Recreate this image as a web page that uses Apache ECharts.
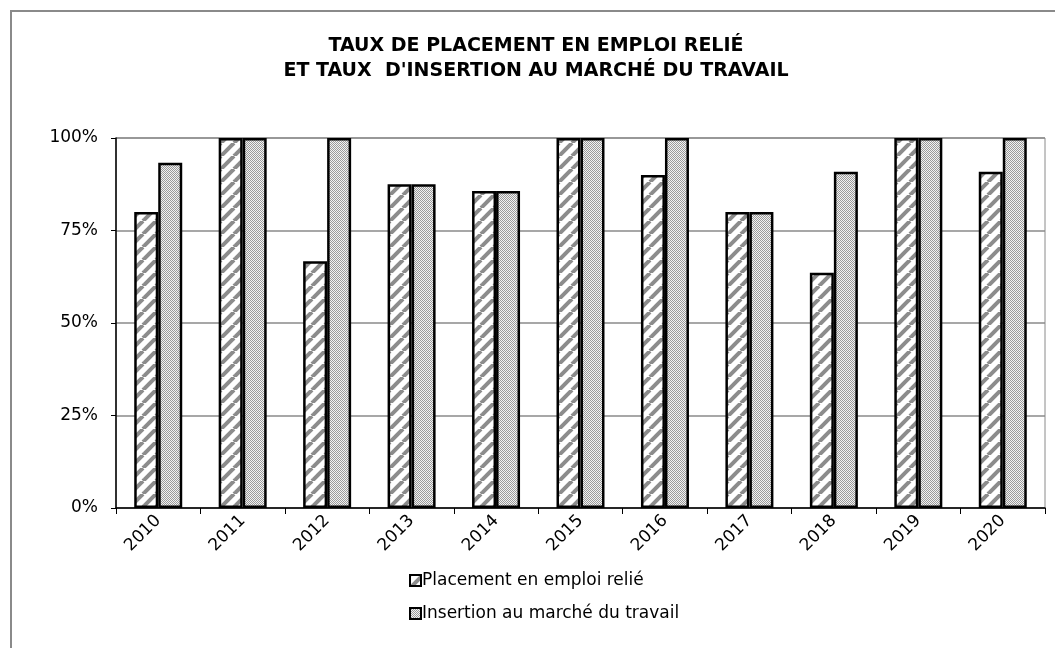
<!DOCTYPE html>
<html>
<head>
<meta charset="utf-8">
<script src="https://cdn.jsdelivr.net/npm/echarts@6/dist/echarts.min.js"></script>
<style>
  html, body { margin: 0; padding: 0; background: #fff; }
  #wrap { position: absolute; left: 0; top: 0; width: 1055px; height: 648px; }
  #frame { position: absolute; left: 10px; top: 10px; right: -5px; bottom: -5px; border-left: 2px solid #8a8a8a; border-top: 2px solid #8a8a8a; }
  #chart { position: absolute; left: 0; top: 0; width: 1055px; height: 648px; }
</style>
</head>
<body>
<div id="wrap">
  <div id="frame"></div>
  <div id="chart"></div>
</div>
<script>
const years = ['2010', '2011', '2012', '2013', '2014', '2015', '2016', '2017', '2018', '2019', '2020']
const placement = [80, 100, 66.7, 87.5, 85.7, 100, 90, 80, 63.6, 100, 90.9]
const insertion = [93.3, 100, 100, 87.5, 85.7, 100, 100, 80, 90.9, 100, 100]
const yTicks = [0, 25, 50, 75, 100]

// hatch pattern for first series
function hatch() {
  const t = 13
  const c = document.createElement('canvas')
  c.width = t
  c.height = t
  const ctx = c.getContext('2d')
  ctx.fillStyle = '#fff'
  ctx.fillRect(0, 0, t, t)
  ctx.strokeStyle = '#8c8c8c'
  ctx.lineWidth = 4
  for (let k = -t; k <= 2 * t; k += t) {
    ctx.beginPath()
    ctx.moveTo(k, t)
    ctx.lineTo(k + t, 0)
    ctx.stroke()
  }
  return c
}

// fine checker for second series
function checker() {
  const c = document.createElement('canvas')
  c.width = 2
  c.height = 2
  const ctx = c.getContext('2d')
  for (let i = 0; i < 2; i++) {
    for (let j = 0; j < 2; j++) {
      ctx.fillStyle = (i + j) % 2 ? '#f2f2f2' : '#9a9a9a'
      ctx.fillRect(i, j, 1, 1)
    }
  }
  return c
}

const font = '"DejaVu Sans", sans-serif'
const chart = echarts.init(document.getElementById('chart'))

chart.setOption({
  animation: false,
  title: {
    text: 'TAUX DE PLACEMENT EN EMPLOI RELIÉ\nET TAUX  D\'INSERTION AU MARCHÉ DU TRAVAIL',
    left: 531,
    textAlign: 'center',
    top: 29,
    textStyle: {
      fontFamily: font,
      fontWeight: 'bold',
      fontSize: 19,
      lineHeight: 25,
      color: '#000',
    },
  },
  legend: {
    orient: 'vertical',
    left: 404,
    top: 567,
    itemGap: 16,
    itemWidth: 11,
    itemHeight: 11,
    icon: 'rect',
    textStyle: { fontFamily: font, fontSize: 17, color: '#000', padding: [0, 0, 0, -4] },
    data: ['Placement en emploi relié', 'Insertion au marché du travail'],
  },
  grid: {
    left: 116,
    right: 10,
    top: 138,
    bottom: 140,
    show: true,
    borderColor: '#8a8a8a',
    borderWidth: 1,
  },
  xAxis: {
    type: 'category',
    data: years,
    axisLine: { lineStyle: { color: '#000', width: 1.5 } },
    axisTick: { show: true, length: 6, lineStyle: { color: '#000' } },
    axisLabel: {
      rotate: 45,
      margin: 10,
      fontFamily: font,
      fontSize: 17,
      color: '#000',
    },
  },
  yAxis: {
    type: 'value',
    min: yTicks[0],
    max: yTicks[yTicks.length - 1],
    interval: 25,
    axisLine: { show: true, lineStyle: { color: '#000', width: 1.5 } },
    axisTick: { show: true, length: 5, lineStyle: { color: '#000' } },
    axisLabel: {
      formatter: '{value}%',
      margin: 18,
      fontFamily: font,
      fontSize: 17,
      color: '#000',
    },
    splitLine: { lineStyle: { color: '#8a8a8a', width: 1.5 } },
  },
  series: [
    {
      name: 'Placement en emploi relié',
      type: 'bar',
      barWidth: 24,
      barGap: '0%',
      itemStyle: {
        color: { image: hatch(), repeat: 'repeat' },
        borderColor: '#000',
        borderWidth: 2.5,
      },
      data: placement,
    },
    {
      name: 'Insertion au marché du travail',
      type: 'bar',
      barWidth: 24,
      itemStyle: {
        color: { image: checker(), repeat: 'repeat' },
        borderColor: '#000',
        borderWidth: 2.5,
      },
      data: insertion,
    },
  ],
})
</script>
</body>
</html>
